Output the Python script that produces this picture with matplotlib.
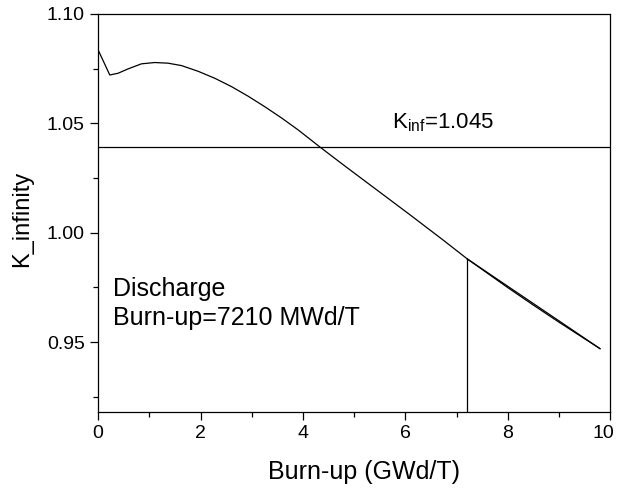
import numpy as np
import matplotlib.pyplot as plt
import matplotlib.transforms as mtransforms
from matplotlib.ticker import MultipleLocator

plt.rcParams['font.family'] = ['Liberation Sans', 'DejaVu Sans']
plt.rcParams['mathtext.fontset'] = 'custom'
plt.rcParams['mathtext.rm'] = 'Liberation Sans'
plt.rcParams['mathtext.it'] = 'Liberation Sans'
plt.rcParams['mathtext.default'] = 'regular'

# K_infinity vs burn-up
burnup = [0.0, 0.228, 0.39, 0.586, 0.846, 1.107, 1.367, 1.628, 1.953, 2.279,
          2.604, 2.93, 3.255, 3.58, 3.906, 4.336, 4.79, 5.44, 6.09, 6.74,
          7.21, 8.0, 8.5, 9.0, 9.8]
k_inf = [1.0836, 1.0721, 1.0729, 1.0749, 1.0772, 1.0778, 1.0775, 1.0764,
         1.0738, 1.0706, 1.0668, 1.0624, 1.0576, 1.0525, 1.0470, 1.0391,
         1.0310, 1.0196, 1.0082, 0.9966, 0.9880, 0.9755, 0.9676, 0.9597,
         0.9470]

# second branch after the discharge point
burnup_b = [7.21, 8.0, 8.5, 9.0, 9.8]
k_inf_b = [0.9880, 0.9749, 0.9669, 0.9591, 0.9470]

k_line = 1.0391
discharge = 7.21

fig = plt.figure(figsize=(6.17, 4.9), dpi=100)
ax = fig.add_axes([0.159, 0.159, 0.83, 0.8125])

ax.plot(burnup, k_inf, color='black', lw=0.9)
ax.plot(burnup_b, k_inf_b, color='black', lw=0.9)
ax.axhline(k_line, color='black', lw=0.9)
ax.plot([discharge, discharge], [0.918, k_inf[20]], color='black', lw=0.9)

ax.text(5.74, 1.0479, 'K$_{inf}$=1.045', fontsize=16, va='baseline', ha='left')
ax.text(0.29, 0.9712, 'Discharge', fontsize=18, va='baseline', ha='left')
ax.text(0.29, 0.9580, 'Burn-up=7210 MWd/T', fontsize=18, va='baseline', ha='left')

ax.set_xlim(0, 10)
ax.set_ylim(0.918, 1.10)
ax.xaxis.set_major_locator(MultipleLocator(2))
ax.xaxis.set_minor_locator(MultipleLocator(1))
ax.yaxis.set_major_locator(MultipleLocator(0.05))
ax.yaxis.set_minor_locator(MultipleLocator(0.025))
ax.yaxis.set_major_formatter(plt.FormatStrFormatter('%.2f'))
ax.tick_params(which='major', direction='out', length=6, width=0.9, labelsize=14)
ax.tick_params(which='minor', direction='out', length=3.5, width=0.9)
for s in ax.spines.values():
    s.set_linewidth(0.9)

ax.set_xlabel('Burn-up (GWd/T)', fontsize=18)
ax.set_ylabel('K_infinity', fontsize=17)
ax.xaxis.set_label_coords(0.52, -0.12)
ax.yaxis.set_label_coords(-0.127, 0.485)

# the "10" label sits a little inside the right edge, as in the original
fig.canvas.draw()
for lab in ax.get_xticklabels():
    if lab.get_text() == '10':
        lab.set_horizontalalignment('right')
        lab.set_transform(lab.get_transform() +
                          mtransforms.ScaledTranslation(4 / 100, 0, fig.dpi_scale_trans))

plt.savefig('out.png', dpi=100)
